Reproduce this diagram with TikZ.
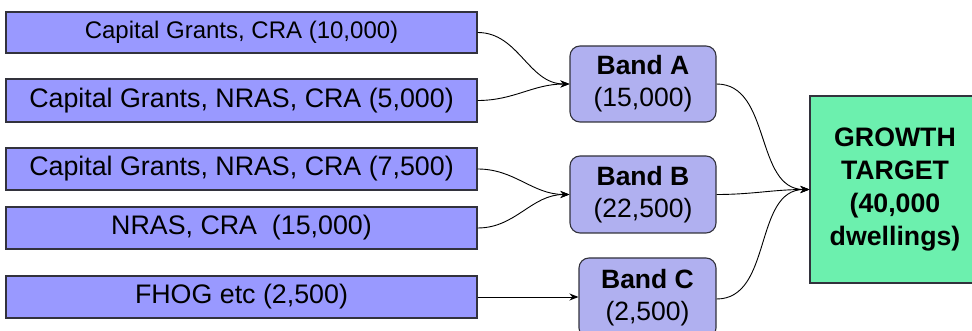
\documentclass[tikz,border=0pt]{standalone}
\usepackage{fontspec}
\setmainfont{Liberation Sans}
\usetikzlibrary{arrows.meta}
\definecolor{srcfill}{RGB}{153,153,255}
\definecolor{bandfill}{RGB}{176,176,240}
\definecolor{goalfill}{RGB}{108,240,174}
\definecolor{edgegray}{RGB}{50,50,60}
\tikzset{
  srcbox/.style={draw=edgegray, line width=1.3pt, fill=srcfill, rectangle, inner sep=0pt,
    minimum width=471pt, font=\fontsize{26.8}{32}\selectfont},
  bandbox/.style={draw=edgegray, line width=1.1pt, fill=bandfill, rectangle, rounded corners=10pt,
    inner sep=0pt, align=center, font=\fontsize{26.5}{32}\selectfont},
  goalbox/.style={draw=edgegray, line width=1.1pt, fill=goalfill, rectangle, inner sep=0pt,
    align=center, font=\fontsize{26.7}{33}\selectfont\bfseries},
  link/.style={black, line width=0.9pt, -{Stealth[length=9pt,width=7pt]}}
}
\begin{document}
\begin{tikzpicture}[x=1pt,y=-1pt]
\useasboundingbox (0,0) rectangle (972,331);
\clip (0,0) rectangle (972,331);
\node[srcbox, minimum height=41pt, font=\fontsize{24}{28}\selectfont] (s1) at (241.5,32.5) {Capital Grants, CRA (10,000)};
\node[srcbox, minimum height=43pt] (s2) at (241.5,100.5) {Capital Grants, NRAS, CRA (5,000)};
\node[srcbox, minimum height=42pt] (s3) at (241.5,169) {Capital Grants, NRAS, CRA (7,500)};
\node[srcbox, minimum height=42pt] (s4) at (241.5,228) {NRAS, CRA \ (15,000)};
\node[srcbox, minimum height=42pt] (s5) at (241.5,297) {FHOG etc (2,500)};
\node[bandbox, minimum width=146pt, minimum height=76pt] (bA) at (643,84) {\textbf{Band A}\\(15,000)};
\node[bandbox, minimum width=146pt, minimum height=77pt] (bB) at (643,194.5) {\textbf{Band B}\\(22,500)};
\node[bandbox, minimum width=137pt, minimum height=80pt] (bC) at (647.5,298) {\textbf{Band C}\\(2,500)};
\node[goalbox, minimum width=170pt, minimum height=187pt] (g) at (895,189.5) {GROWTH\\TARGET\\(40,000\\dwellings)};
\draw[link] (s1.east) to[out=0,in=180] (bA.west);
\draw[link] (s2.east) to[out=0,in=180] (bA.west);
\draw[link] (s3.east) to[out=0,in=180] (bB.west);
\draw[link] (s4.east) to[out=0,in=180] (bB.west);
\draw[link] (s5.east) -- (bC.west |- s5.east);
\draw[link] (bA.east) to[out=0,in=180] (g.west);
\draw[link] (bB.east) to[out=0,in=180] (g.west);
\draw[link] ([yshift=-1pt]bC.east) to[out=0,in=180] (g.west);
\end{tikzpicture}
\end{document}
